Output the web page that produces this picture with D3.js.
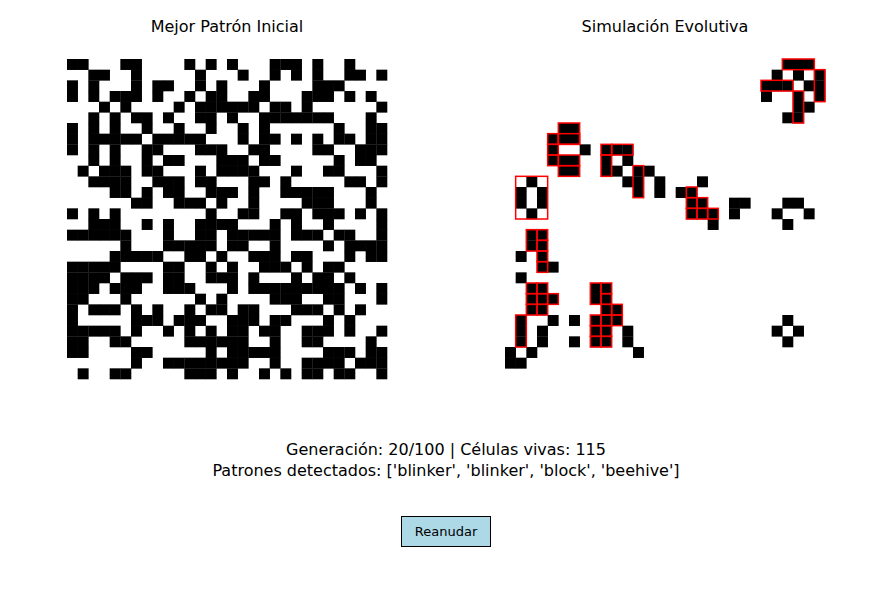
<!DOCTYPE html>
<html>
<head>
<meta charset="utf-8">
<script src="https://cdn.jsdelivr.net/npm/d3@7"></script>
<style>
  body { margin: 0; background: #fff; }
  text { font-family: "DejaVu Sans", sans-serif; }
</style>
</head>
<body>
<script>
// live cells per row (column indices), 30x30 grids
var initialRows = [
  [0,1,5,6,11,13,15,19,20,21,23,26],
  [2,3,6,12,16,19,21,23,26,27,29],
  [0,2,6,8,9,12,14,18,23,24,25],
  [0,2,4,5,6,8,11,13,14,17,18,22,23,24,26,28],
  [3,5,10,12,13,14,15,16,17,19,20,22,29],
  [2,4,6,7,9,12,13,15,18,19,20,21,22,23,24,28],
  [0,2,4,7,10,13,16,18,25,28,29],
  [0,2,3,4,5,6,8,9,10,11,12,16,18,19,21,23,25,26,28,29],
  [0,2,4,7,8,12,13,14,17,18,23,24,27,28,29],
  [2,4,7,9,10,14,15,16,18,19,25,27,28],
  [1,3,4,5,7,8,12,14,15,16,17,21,24,25,29],
  [2,3,4,5,8,9,10,12,13,17,18,20,26,27,29],
  [4,5,7,9,10,13,14,15,17,20,21,22,23,24,28],
  [6,7,10,11,12,14,17,22,23,24,28],
  [0,2,4,13,16,17,20,21,23,24,25,27,29],
  [2,3,4,7,9,12,13,14,15,19,21,24,29],
  [0,1,2,3,4,5,9,12,13,15,16,17,18,19,21,22,23,25,26,29],
  [5,9,10,11,12,13,15,16,19,24,26,27,28,29],
  [4,5,6,7,8,11,12,14,17,18,19,21,22,26,28,29],
  [0,1,2,3,4,9,10,13,15,18,19,20,22,24,25],
  [0,1,2,3,5,6,7,9,10,13,14,15,17,21,23,24,26],
  [0,1,2,4,5,6,9,10,11,15,17,18,19,20,21,22,23,24,25,27,29],
  [0,1,5,12,14,19,20,21,24,25,29],
  [0,2,3,4,6,8,11,13,14,16,17,21,22,23,25,27],
  [0,6,7,8,10,11,12,15,16,17,19,20,24,26],
  [0,1,2,3,4,6,9,11,13,15,16,18,19,22,23,24,26,29],
  [0,1,4,5,11,12,13,14,15,16,19,22,23,28],
  [0,1,6,7,13,15,16,17,18,19,24,25,26,28,29],
  [6,9,10,11,12,13,14,15,16,19,22,23,24,25,27,28,29],
  [1,4,5,11,12,13,15,18,20,22,23,25,26,29]
];
var currentRows = [
  [26,27,28],[25,27,29],[24,25,26,28,29],[24,27,29],[27,28],[26,27],
  [5,6],[4,5,6],[4,7,9,10,11],[4,5,6,9,11],[5,6,9,10,12,13],
  [2,11,12,14,18],[1,3,12,14,16,17],[1,3,17,18,21,22,26,27],
  [2,17,18,19,21,25,28],[19,26],[2,3],[2,3],[1,3],[3,4],[1],
  [2,3,8,9],[2,3,4,8,9],[2,3,9,10],[1,4,6,8,9,10,26],
  [1,3,8,9,11,25,27],[1,3,6,8,9,11,26],[0,2,12],[0,1],[]
];
// detected patterns: [row, col, rows, cols]
var patternBoxes = [
  [0,26,1,3],[1,29,3,1],[2,24,1,3],[3,27,3,1],
  [6,5,2,2],[7,4,1,1],[8,4,1,1],[9,4,1,1],[7,5,1,2],[9,5,1,2],[10,5,1,2],
  [8,9,1,1],[8,10,1,2],[9,9,2,1],[10,12,3,1],
  [11,1,4,3],
  [12,17,1,1],[13,17,1,1],[13,18,1,1],[14,17,1,1],[14,18,1,1],[14,19,1,1],
  [16,2,2,1],[16,3,1,1],[17,3,1,1],[18,3,1,1],[19,3,1,1],
  [21,2,1,1],[21,3,1,1],[22,2,1,1],[22,3,1,1],[22,4,1,1],[23,2,1,1],[23,3,1,1],
  [24,1,3,1],
  [21,8,2,1],[21,9,1,1],[22,9,1,1],[23,9,1,1],[23,10,1,1],
  [24,8,1,1],[24,9,1,1],[24,10,1,1],[25,8,1,1],[25,9,1,1],[26,8,1,1],[26,9,1,1]
];
var titles = ["Mejor Patrón Inicial", "Simulación Evolutiva"];
var statusLines = [
  "Generación: 20/100 | Células vivas: 115",
  "Patrones detectados: ['blinker', 'blinker', 'block', 'beehive']"
];
var buttonLabel = "Reanudar";

var svgWidth = 891, svgHeight = 593;
var svg = d3.select("body").append("svg")
  .attr("width", svgWidth).attr("height", svgHeight);

var n = 30, size = 320;
var idx = d3.range(n);

function toCells(rows) {
  var out = [];
  rows.forEach(function(cols, r) { cols.forEach(function(c) { out.push({r: r, c: c}); }); });
  return out;
}

function drawGrid(left, top, rows, title, boxes) {
  var x = d3.scaleBand().domain(idx).range([0, size]);
  var y = d3.scaleBand().domain(idx).range([0, size]);
  var g = svg.append("g").attr("transform", `translate(${left}, ${top})`);
  g.selectAll("rect.cell")
    .data(toCells(rows))
    .enter().append("rect")
    .attr("class", "cell")
    .attr("x", d => x(d.c)).attr("y", d => y(d.r))
    .attr("width", x.bandwidth() + 0.3).attr("height", y.bandwidth() + 0.3)
    .attr("fill", "#000");
  if (boxes) {
    g.selectAll("rect.box")
      .data(boxes)
      .enter().append("rect")
      .attr("class", "box")
      .attr("x", d => x(d[1])).attr("y", d => y(d[0]))
      .attr("width", d => x.bandwidth() * d[3])
      .attr("height", d => y.bandwidth() * d[2])
      .attr("fill", "none").attr("stroke", "red").attr("stroke-width", 1.5);
  }
  svg.append("text")
    .attr("x", left + size / 2).attr("y", 32)
    .attr("text-anchor", "middle").attr("font-size", 16)
    .text(title);
}

drawGrid(67, 59, initialRows, titles[0]);
drawGrid(505, 59, currentRows, titles[1], patternBoxes);

svg.selectAll("text.status")
  .data(statusLines)
  .enter().append("text")
  .attr("class", "status")
  .attr("x", 446).attr("y", (d, i) => 455 + i * 21)
  .attr("text-anchor", "middle").attr("font-size", 16)
  .text(d => d);

svg.append("rect")
  .attr("x", 401.5).attr("y", 516.5).attr("width", 89).attr("height", 30)
  .attr("fill", "lightblue").attr("stroke", "#000");
svg.append("text")
  .attr("x", 446).attr("y", 536)
  .attr("text-anchor", "middle").attr("font-size", 13)
  .text(buttonLabel);
</script>
</body>
</html>
